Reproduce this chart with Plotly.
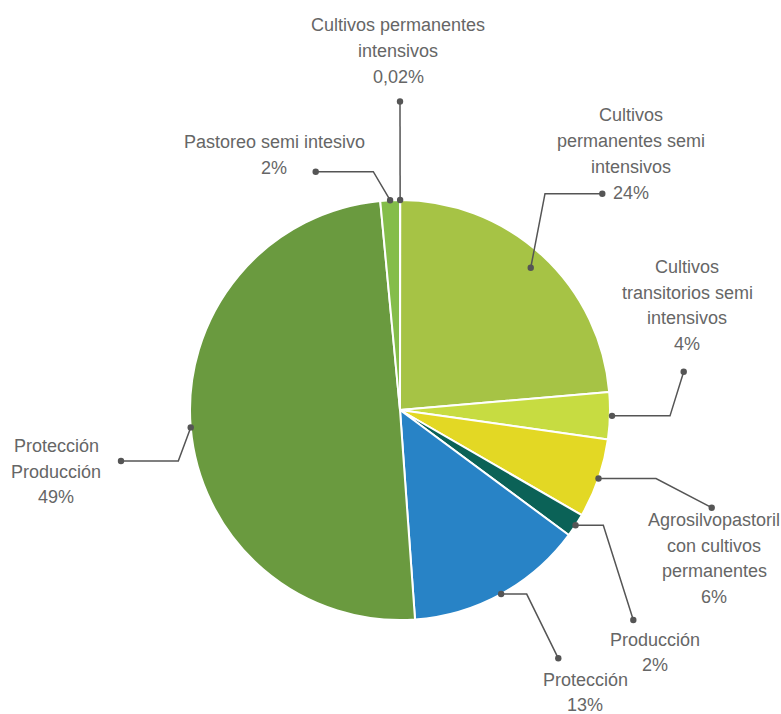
import math
import plotly.graph_objects as go

# ---------------- data ----------------
categories = [
    "Cultivos permanentes intensivos",
    "Cultivos permanentes semi intensivos",
    "Cultivos transitorios semi intensivos",
    "Agrosilvopastoril con cultivos permanentes",
    "Producción",
    "Protección",
    "Protección Producción",
    "Pastoreo semi intesivo",
]
values = [0.02, 23.6, 3.6, 6.1, 1.8, 13.7, 49.6, 1.5]
pct_labels = ["0,02%", "24%", "4%", "6%", "2%", "13%", "49%", "2%"]
label_lines = [
    ["Cultivos permanentes", "intensivos"],
    ["Cultivos", "permanentes semi", "intensivos"],
    ["Cultivos", "transitorios semi", "intensivos"],
    ["Agrosilvopastoril", "con cultivos", "permanentes"],
    ["Producción"],
    ["Protección"],
    ["Protección", "Producción"],
    ["Pastoreo semi intesivo"],
]
colors = ["#A6C345", "#A6C345", "#C7DC41", "#E3D824", "#0B6257",
          "#2883C6", "#6A9A3F", "#84BD4A"]

# ---------------- layout constants (pixels) ----------------
W, H = 781, 714
CX, CY, R = 400, 410, 210
LINE_H = 25.7
FONT = "Liberation Sans, Arial, sans-serif"
FONT_SIZE = 18
TXT_COLOR = "#666666"
LEADER_COLOR = "#555555"

# label block positions: (center x, first line y)
label_pos = [(398, 25.5), (631, 115.5), (687, 267), (714, 520),
             (655, 639.5), (585, 679.5), (56, 446), (274, 142)]
# leader: radial factor of start point, elbow (x, y or None=same as start), end
leaders = [
    (1.0, None, (400, 101.5)),
    (0.92, (545, 193.7), (602.3, 193.7)),
    (1.01, (670, None), (683.7, 371.7)),
    (1.0, (656, None), (711.7, 507.7)),
    (1.0, (603.3, None), (633.3, 620)),
    (1.0, (526.7, None), (558.3, 658.3)),
    (1.0, (178.3, 461), (121, 461)),
    (1.0, (373.3, 171.7), (315.7, 171.7)),
]


def px(x):
    return x / W


def py(y):
    return 1 - y / H


fig = go.Figure()
fig.add_trace(go.Pie(
    labels=categories,
    values=values,
    sort=False,
    direction="clockwise",
    rotation=0,
    textinfo="none",
    hoverinfo="label+percent",
    marker=dict(colors=colors, line=dict(color="white", width=2)),
    domain=dict(x=[px(CX - R), px(CX + R)], y=[py(CY + R), py(CY - R)]),
    showlegend=False,
))

shapes = []
annotations = []
total = sum(values)
cum = 0.0
for i, v in enumerate(values):
    mid = (cum + v / 2) / total * 2 * math.pi
    cum += v
    rf, elbow, end = leaders[i]
    sx = CX + R * rf * math.sin(mid)
    sy = CY - R * rf * math.cos(mid)
    pts = [(sx, sy)]
    if elbow is not None:
        ex, ey = elbow
        if ey is None:
            ey = sy
        pts.append((ex, ey))
    pts.append(end)
    path = "M " + " L ".join(f"{px(a)},{py(b)}" for a, b in pts)
    shapes.append(dict(type="path", path=path, xref="paper", yref="paper",
                       line=dict(color=LEADER_COLOR, width=1.5), layer="above"))
    for (a, b) in (pts[0], pts[-1]):
        rr = 3.2
        shapes.append(dict(type="circle", xref="paper", yref="paper",
                           x0=px(a - rr), x1=px(a + rr), y0=py(b + rr), y1=py(b - rr),
                           fillcolor=LEADER_COLOR, line=dict(width=0), layer="above"))
    lx, ly = label_pos[i]
    lines = label_lines[i] + [pct_labels[i]]
    for k, t in enumerate(lines):
        annotations.append(dict(
            x=px(lx), y=py(ly + k * LINE_H), xref="paper", yref="paper",
            text=t, showarrow=False, xanchor="center", yanchor="middle",
            borderpad=0,
            font=dict(family=FONT, size=FONT_SIZE, color=TXT_COLOR)))

fig.update_layout(
    width=W, height=H,
    margin=dict(l=0, r=0, t=0, b=0),
    paper_bgcolor="white", plot_bgcolor="white",
    shapes=shapes, annotations=annotations,
)
fig.write_html("out.html",
               config={"displayModeBar": False},
               post_script="document.body.style.margin='0';document.body.style.overflow='hidden';")
